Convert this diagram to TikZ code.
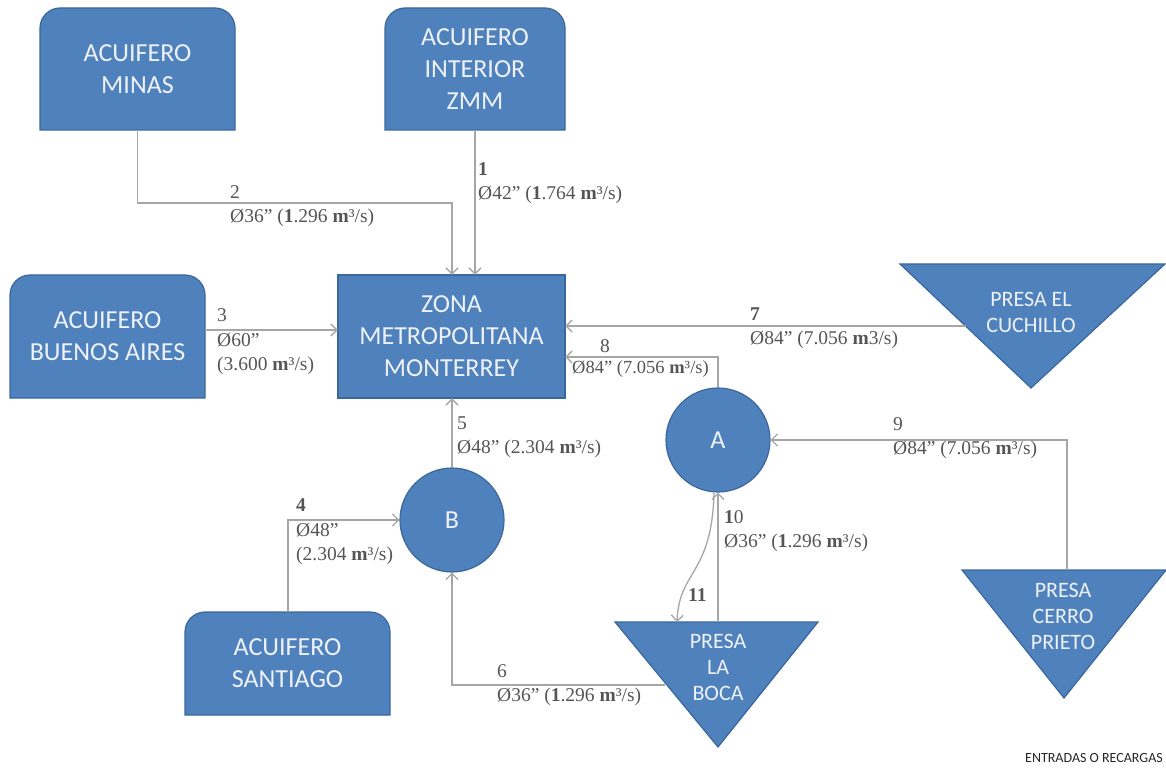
\documentclass[tikz,border=0pt]{standalone}
\usepackage{fontspec}
\setmainfont{Liberation Serif}
\newfontfamily\boxfont{Carlito}
\usetikzlibrary{arrows.meta,calc}
\definecolor{boxblue}{HTML}{4F81BD}
\definecolor{boxedge}{HTML}{3A679C}
\definecolor{linegray}{HTML}{A6A6A6}
\definecolor{labgray}{HTML}{555555}
\definecolor{boxtxt}{HTML}{EEF2F8}
\tikzset{
  shapesty/.style={fill=boxblue, draw=boxedge, line width=1.2pt},
  boxlab/.style={inner sep=0pt, align=center, text=boxtxt, font=\boxfont\fontsize{26}{32}\selectfont},
  trilab/.style={inner sep=0pt, align=center, text=boxtxt, font=\boxfont\fontsize{22}{26}\selectfont},
  conn/.style={draw=linegray, line width=1.3pt, -{Straight Barb[length=6pt,width=12pt]}},
  elab/.style={inner sep=0pt, anchor=west, text=labgray, font=\fontsize{19.5}{24.5}\selectfont, align=left},
}
\newcommand\mytopbox[6]{%
  \path[shapesty] (#2,#5) -- (#2,#3+20) .. controls (#2,#3+9) and (#2+9,#3) .. (#2+20,#3)
    -- (#4-20,#3) .. controls (#4-9,#3) and (#4,#3+9) .. (#4,#3+20) -- (#4,#5) -- cycle;
  \node[boxlab, minimum width={(#4-#2)*1pt}, minimum height={(#5-#3)*1pt}] (#1) at ({(#2+#4)/2},{(#3+#5)/2}) {#6};
}
\begin{document}
\begin{tikzpicture}[x=1pt,y=-1pt]
\useasboundingbox (0,0) rectangle (1166,775);

% boxes
\mytopbox{minas}{40}{8}{235}{130}{ACUIFERO\\MINAS}
\mytopbox{interior}{385}{8}{565}{130}{ACUIFERO\\INTERIOR\\ZMM}
\mytopbox{ba}{10}{275}{205}{398}{ACUIFERO\\BUENOS AIRES}
\mytopbox{santiago}{185}{612}{390}{715}{ACUIFERO\\SANTIAGO}
\path[shapesty] (338,275) rectangle (565,398);
\node[boxlab, minimum width=227pt, minimum height=123pt] (zmm) at (451.5,336.5) {ZONA\\METROPOLITANA\\MONTERREY};

% circles
\node[circle, shapesty, boxlab, minimum size=104pt] (A) at (718,440) {A};
\node[circle, shapesty, boxlab, minimum size=104pt] (B) at (452,520) {B};

% triangles
\path[shapesty] (900,264) -- (1165,264) -- (1031,388) -- cycle;
\node[trilab] (cuch) at (1031,312) {PRESA EL\\CUCHILLO};
\path[shapesty] (962,570) -- (1166,570) -- (1064,698) -- cycle;
\node[trilab] (cerro) at (1063,616) {PRESA\\CERRO\\PRIETO};
\path[shapesty] (615,622) -- (818,622) -- (718,747) -- cycle;
\node[trilab] (boca) at (718,667) {PRESA\\LA\\BOCA};

\coordinate (cuch7) at (966,326);
\coordinate (cerroT) at (1067,570);
\coordinate (bocaT) at (718,622);
\coordinate (boca11) at (677,622);
\coordinate (bocaL) at (665,685);
\coordinate (c2) at (452,203);
\coordinate (c8) at (718,357);

% connectors
\draw[conn] (interior.south) -- (interior.south |- zmm.north);
\draw[conn] (minas.south) |- (c2) -- (c2 |- zmm.north);
\draw[conn] (ba.east |- 0,330) -- (zmm.west |- 0,330);
\draw[conn] (cuch7) -- (cuch7 -| zmm.east);
\draw[conn] (A.north) -- (c8) -- (c8 -| zmm.east);
\draw[conn] (cerroT) |- (A.east);
\draw[conn] (B.north) -- (B.north |- zmm.south);
\draw[conn] (288,0 |- santiago.north) |- (B.west);
\draw[conn] (bocaL) -| (B.south);
\draw[conn] (bocaT) -- (A.south);
\draw[conn] ($(A.south)+(-4,0)$) .. controls (712,575) and (679,570) .. (boca11);

% labels
\node[elab] (l1) at (478,183) {\textbf{1}\\Ø42” (\textbf{1}.764 \textbf{m}³/s)};
\node[elab] (l2) at (230,206) {2\\Ø36” (\textbf{1}.296 \textbf{m}³/s)};
\node[elab] (l3) at (217,342) {3\\Ø60”\\(3.600 \textbf{m}³/s)};
\node[elab] (l7) at (750,328) {\textbf{7}\\Ø84” (7.056 \textbf{m}3/s)};
\node[elab] (l8n) at (600,346) {8};
\node[elab, font=\fontsize{18.5}{23}\selectfont] (l8) at (572,369) {Ø84” (7.056 \textbf{m}³/s)};
\node[elab] (l5) at (457,437) {5\\Ø48” (2.304 \textbf{m}³/s)};
\node[elab] (l4) at (296,532) {\textbf{4}\\Ø48”\\(2.304 \textbf{m}³/s)};
\node[elab] (l6) at (497,685) {6\\Ø36” (\textbf{1}.296 \textbf{m}³/s)};
\node[elab] (l9) at (893,438) {9\\Ø84” (7.056 \textbf{m}³/s)};
\node[elab] (l10) at (724,531) {\textbf{1}0\\Ø36” (\textbf{1}.296 \textbf{m}³/s)};
\node[elab] (l11) at (688,595) {\textbf{11}};

\node[inner sep=0pt, anchor=east, text=black!85, font=\boxfont\fontsize{14}{17}\selectfont] (legend) at (1163,758) {ENTRADAS O RECARGAS};
\end{tikzpicture}
\end{document}
